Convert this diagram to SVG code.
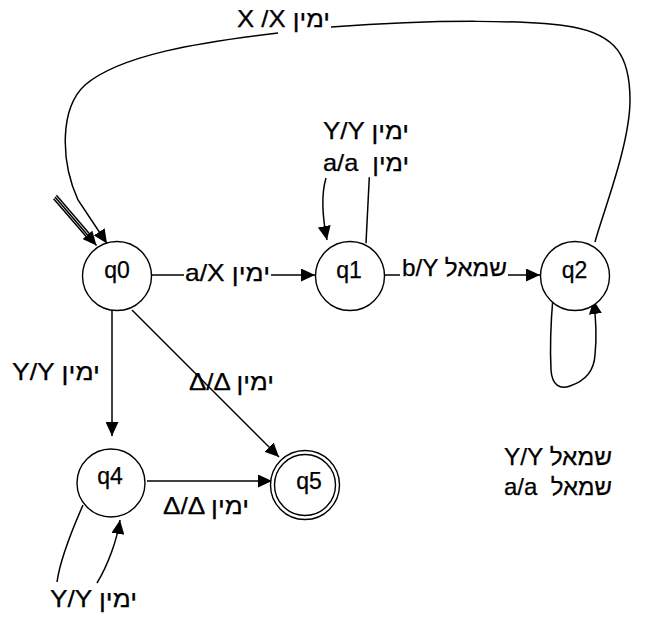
<svg xmlns="http://www.w3.org/2000/svg" width="645" height="621" viewBox="0 0 645 621">
<style>
  .st { fill: #fff; stroke: #000; stroke-width: 1.4; }
  .ln { fill: none; stroke: #000; stroke-width: 1.5; }
  .arr { marker-end: url(#ah); }
  text { font-family: "Liberation Sans", Arial, "DejaVu Sans", sans-serif; font-size: 24px; fill: #000; stroke: #000; stroke-width: 0.25; white-space: pre; }
  .nm { text-anchor: middle; font-size: 23px; }
</style>
<defs>
  <marker id="ah" markerUnits="userSpaceOnUse" markerWidth="15" markerHeight="13" refX="14" refY="6.5" orient="auto">
    <path d="M0,0 L14,6.5 L0,13 z" fill="#000"/>
  </marker>
</defs>
<rect width="645" height="621" fill="#fff"/>

<g id="connectors">
  <g id="start">
    <line class="ln" x1="53.6" y1="198.7" x2="91.1" y2="242.2" stroke-width="1.2"/>
    <line class="ln" x1="55" y1="197" x2="96.5" y2="245.5" stroke-width="1.2" marker-end="url(#ah)"/>
    <line class="ln" x1="56.4" y1="195.3" x2="92.9" y2="237.8" stroke-width="1.2"/>
  </g>
  <path class="ln" d="M595,242 C602,215 630,145 630,100 C630,55 615,35 573,27 C530,20 440,19 331,27"/>
  <path class="ln arr" d="M278,33 C200,42 120,55 85,85 C60,108 60,160 78,200 L107,243.5"/>
  <line class="ln" x1="152" y1="275" x2="184" y2="275"/>
  <line class="ln arr" x1="271" y1="275" x2="315" y2="275"/>
  <path class="ln arr" d="M326,178 C321,195 322,215 327,240"/>
  <line class="ln" x1="369.3" y1="177.3" x2="366" y2="243.3"/>
  <line class="ln" x1="385" y1="275" x2="400" y2="275"/>
  <line class="ln arr" x1="508" y1="275" x2="540" y2="275"/>
  <path class="ln arr" d="M553,297 C551,320 550,350 551,370 C552,385 560,390 570,386 C585,381 594,372 595,355 C597,335 596,318 593.5,300"/>
  <line class="ln arr" x1="112" y1="310" x2="112" y2="436"/>
  <line class="ln arr" x1="132" y1="310" x2="279" y2="457"/>
  <line class="ln arr" x1="147" y1="481" x2="272" y2="481"/>
  <path class="ln" d="M83,505 C72,530 60,560 57,582"/>
  <path class="ln arr" d="M97,583 C108,565 117,540 120,520"/>
</g>

<g id="labels">
  <text x="237" y="27" textLength="93" lengthAdjust="spacingAndGlyphs">X /X ימין</text>
  <text x="323" y="139" textLength="86" lengthAdjust="spacingAndGlyphs">Y/Y ימין</text>
  <text x="323" y="171" textLength="86" lengthAdjust="spacingAndGlyphs" xml:space="preserve">a/a  ימין</text>
  <text x="185" y="281" textLength="85" lengthAdjust="spacingAndGlyphs">a/X ימין</text>
  <text x="402" y="276" textLength="105" lengthAdjust="spacingAndGlyphs">b/Y שמאל</text>
  <text x="12" y="380" textLength="88" lengthAdjust="spacingAndGlyphs">Y/Y ימין</text>
  <text x="189" y="390" textLength="85" lengthAdjust="spacingAndGlyphs">Δ/Δ ימין</text>
  <text x="163" y="514" textLength="86" lengthAdjust="spacingAndGlyphs">Δ/Δ ימין</text>
  <text x="50" y="607" textLength="87" lengthAdjust="spacingAndGlyphs">Y/Y ימין</text>
  <text x="504" y="465" textLength="108" lengthAdjust="spacingAndGlyphs">Y/Y שמאל</text>
  <text x="504" y="495" textLength="108" lengthAdjust="spacingAndGlyphs" xml:space="preserve">a/a  שמאל</text>
</g>

<g id="q0">
  <circle class="st" cx="117" cy="276" r="34.5"/>
  <text class="nm" x="117" y="277.5">q0</text>
</g>
<g id="q1">
  <circle class="st" cx="350" cy="276" r="34.5"/>
  <text class="nm" x="349" y="277.5">q1</text>
</g>
<g id="q2">
  <circle class="st" cx="575" cy="276" r="34.5"/>
  <text class="nm" x="574.5" y="277.5">q2</text>
</g>
<g id="q4">
  <circle class="st" cx="111" cy="483" r="34"/>
  <text class="nm" x="110" y="483.5">q4</text>
</g>
<g id="q5">
  <circle class="st" cx="305" cy="485" r="34.5"/>
  <circle class="st" cx="305" cy="485" r="30.5"/>
  <text class="nm" x="309" y="488.5">q5</text>
</g>
</svg>
